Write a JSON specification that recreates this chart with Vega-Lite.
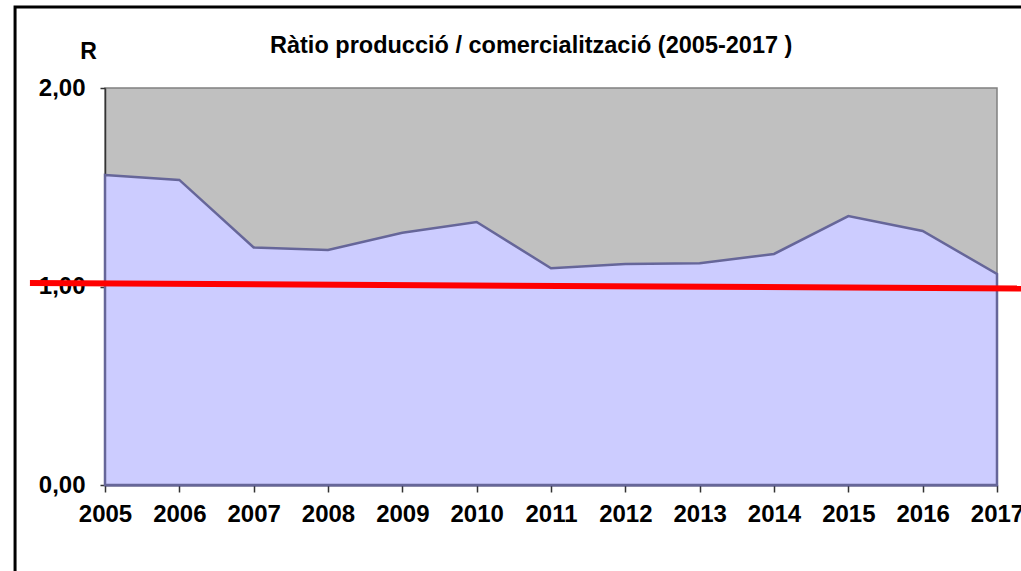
{
  "$schema": "https://vega.github.io/schema/vega-lite/v6.json",
  "width": 892,
  "height": 397,
  "autosize": {"type": "none"},
  "padding": {"left": 105, "top": 88, "right": 24, "bottom": 86},
  "background": "white",
  "title": {
    "text": "Ràtio producció / comercialització (2005-2017 )",
    "anchor": "start",
    "frame": "group",
    "dx": 165,
    "offset": -71,
    "baseline": "alphabetic",
    "font": "Liberation Sans",
    "fontSize": 23.5,
    "fontWeight": "bold",
    "color": "black"
  },
  "config": {
    "view": {"fill": "#C0C0C0", "stroke": "#808080", "strokeWidth": 1.5},
    "axis": {"grid": false}
  },
  "datasets": {
    "ratio": [
      {"year": 2005, "value": 1.562},
      {"year": 2006, "value": 1.537},
      {"year": 2007, "value": 1.197},
      {"year": 2008, "value": 1.184},
      {"year": 2009, "value": 1.271},
      {"year": 2010, "value": 1.325},
      {"year": 2011, "value": 1.092},
      {"year": 2012, "value": 1.113},
      {"year": 2013, "value": 1.117},
      {"year": 2014, "value": 1.164},
      {"year": 2015, "value": 1.355},
      {"year": 2016, "value": 1.28},
      {"year": 2017, "value": 1.063}
    ],
    "redline": [
      {"x0": 2003.99, "x1": 2017.6, "y0": 1.018, "y1": 0.989}
    ],
    "frame": [
      {"x0": 2003.79, "x1": 2020, "y0": 2.408, "y1": -1}
    ]
  },
  "layer": [
    {
      "data": {"name": "ratio"},
      "mark": {"type": "area", "color": "#CCCCFF", "stroke": "#666699", "strokeWidth": 2.5, "opacity": 1},
      "encoding": {
        "x": {
          "field": "year",
          "type": "quantitative",
          "scale": {"domain": [2005, 2017], "nice": false, "zero": false},
          "axis": {
            "values": [2005, 2006, 2007, 2008, 2009, 2010, 2011, 2012, 2013, 2014, 2015, 2016, 2017],
            "format": "d",
            "title": null,
            "labelFont": "Liberation Sans",
            "labelFontSize": 24,
            "labelFontWeight": "bold",
            "labelColor": "black",
            "labelPadding": 10,
            "labelFlush": false,
            "labelOverlap": false,
            "tickSize": 7,
            "tickColor": "#333333",
            "tickWidth": 1.5,
            "domainColor": "#333366",
            "domainWidth": 2
          }
        },
        "y": {
          "field": "value",
          "type": "quantitative",
          "scale": {"domain": [0, 2], "nice": false},
          "axis": {
            "values": [0, 1, 2],
            "labelExpr": "replace(format(datum.value, '.2f'), '.', ',')",
            "title": "R",
            "titleAngle": 0,
            "titleX": -17,
            "titleY": -30,
            "titleAlign": "center",
            "titleBaseline": "alphabetic",
            "titleFont": "Liberation Sans",
            "titleFontSize": 23,
            "titleFontWeight": "bold",
            "titleColor": "black",
            "labelFont": "Liberation Sans",
            "labelFontSize": 24,
            "labelFontWeight": "bold",
            "labelColor": "black",
            "labelPadding": 15,
            "labelFlush": false,
            "tickSize": 5,
            "tickColor": "#333333",
            "tickWidth": 1.5,
            "domainColor": "#333333",
            "domainWidth": 1.5
          }
        }
      }
    },
    {
      "data": {"name": "redline"},
      "mark": {"type": "rule", "color": "#FF0000", "strokeWidth": 6, "clip": false},
      "encoding": {
        "x": {"field": "x0", "type": "quantitative"},
        "x2": {"field": "x1"},
        "y": {"field": "y0", "type": "quantitative"},
        "y2": {"field": "y1"}
      }
    },
    {
      "data": {"name": "frame"},
      "mark": {"type": "rect", "fill": "transparent", "stroke": "black", "strokeWidth": 3, "clip": false},
      "encoding": {
        "x": {"field": "x0", "type": "quantitative"},
        "x2": {"field": "x1"},
        "y": {"field": "y0", "type": "quantitative"},
        "y2": {"field": "y1"}
      }
    }
  ]
}
